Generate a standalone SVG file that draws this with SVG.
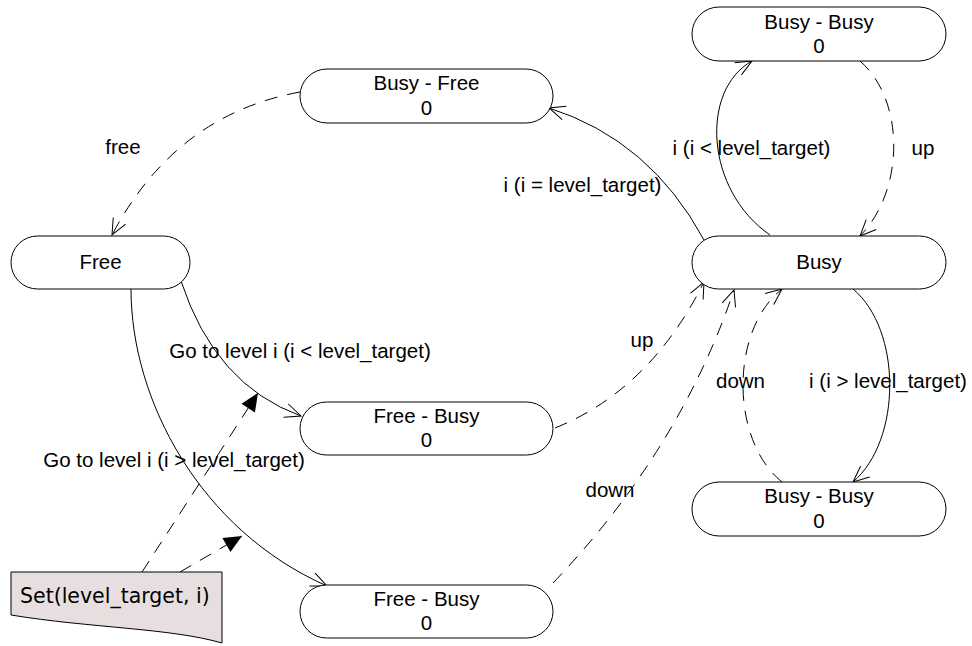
<svg xmlns="http://www.w3.org/2000/svg" width="972" height="646" viewBox="0 0 972 646">
  <style>
    .state { fill: #ffffff; stroke: #000000; stroke-width: 1; }
    .note { fill: #e7dfdf; stroke: #000000; stroke-width: 1; }
    .label { font-family: "Liberation Sans", Arial, sans-serif; font-size: 20.5px; fill: #000000; }
    .mid { text-anchor: middle; }
    .notetext { font-family: "DejaVu Sans", sans-serif; font-size: 20.5px; fill: #000000; }
    .edge { fill: none; stroke: #000000; stroke-width: 1; }
    .dashed { stroke-dasharray: 13 10; }
  </style>
  <defs>
    <marker id="open" markerUnits="userSpaceOnUse" markerWidth="20" markerHeight="18" refX="18" refY="8" orient="auto" overflow="visible">
      <path d="M2,1 L18,8 L2,15" fill="none" stroke="#000000" stroke-width="1" stroke-dasharray="none"/>
    </marker>
    <marker id="filled" markerUnits="userSpaceOnUse" markerWidth="20" markerHeight="18" refX="18" refY="8" orient="auto" overflow="visible">
      <path d="M0,0 L18,8 L0,16 Z" fill="#000000" stroke="none"/>
    </marker>
  </defs>

  <!-- transitions -->
  <g id="connectors">
    <!-- Busy - Free -> Free : free -->
    <path class="edge dashed" d="M300,92 Q175,115 112,235" marker-end="url(#open)"/>
    <!-- Busy -> Busy - Free -->
    <path class="edge" d="M704,240 Q650,140 549,108" marker-end="url(#open)"/>
    <!-- Busy -> Busy - Busy (top) -->
    <path class="edge" d="M770,235 C705,190 700,90 752,61" marker-end="url(#open)"/>
    <!-- Busy - Busy (top) -> Busy : up -->
    <path class="edge dashed" d="M860,61 C905,100 905,190 860,236" marker-end="url(#open)"/>
    <!-- Busy -> Busy - Busy (bottom) -->
    <path class="edge" d="M853,289 C902,330 902,440 853,482" marker-end="url(#open)"/>
    <!-- Busy - Busy (bottom) -> Busy : down -->
    <path class="edge dashed" d="M782,482 C730,440 730,330 782,289" marker-end="url(#open)"/>
    <!-- Free -> Free - Busy (middle) -->
    <path class="edge" d="M181,281 Q215,385 301,416" marker-end="url(#open)"/>
    <!-- Free -> Free - Busy (bottom) -->
    <path class="edge" d="M131,289 C131,400 200,530 327,586" marker-end="url(#open)"/>
    <!-- Free - Busy (middle) -> Busy : up -->
    <path class="edge dashed" d="M555,428 Q650,390 704,282" marker-end="url(#open)"/>
    <!-- Free - Busy (bottom) -> Busy : down -->
    <path class="edge dashed" d="M553,583 Q680,450 734,290" marker-end="url(#open)"/>
    <!-- note anchors -->
    <path class="edge dashed" d="M142,572 L258,393" marker-end="url(#filled)"/>
    <path class="edge dashed" d="M180,572 L242,536" marker-end="url(#filled)"/>

    <!-- transition labels -->
    <text class="label mid" x="123" y="154">free</text>
    <text class="label mid" x="582.5" y="192">i (i = level_target)</text>
    <text class="label mid" x="751.5" y="155">i (i &lt; level_target)</text>
    <text class="label mid" x="923" y="155">up</text>
    <text class="label mid" x="888" y="388">i (i &gt; level_target)</text>
    <text class="label mid" x="740.5" y="388">down</text>
    <text class="label mid" x="300" y="358">Go to level i (i &lt; level_target)</text>
    <text class="label mid" x="174" y="467">Go to level i (i &gt; level_target)</text>
    <text class="label mid" x="642" y="347">up</text>
    <text class="label mid" x="610" y="497">down</text>
  </g>

  <g id="busy-busy-top">
    <rect class="state" x="692" y="7" width="254" height="54" rx="27" ry="27"/>
    <text class="label mid" x="819" y="29">Busy - Busy</text>
    <text class="label mid" x="819" y="53">0</text>
  </g>

  <g id="busy-free">
    <rect class="state" x="300" y="69" width="253" height="54" rx="27" ry="27"/>
    <text class="label mid" x="426.5" y="90">Busy - Free</text>
    <text class="label mid" x="426.5" y="115">0</text>
  </g>

  <g id="free">
    <rect class="state" x="11" y="236" width="179" height="53" rx="26.5" ry="26.5"/>
    <text class="label mid" x="100.5" y="269">Free</text>
  </g>

  <g id="busy">
    <rect class="state" x="692" y="236" width="254" height="53" rx="26.5" ry="26.5"/>
    <text class="label mid" x="819" y="269">Busy</text>
  </g>

  <g id="free-busy-mid">
    <rect class="state" x="300" y="402" width="253" height="53" rx="26.5" ry="26.5"/>
    <text class="label mid" x="426.5" y="423">Free - Busy</text>
    <text class="label mid" x="426.5" y="447">0</text>
  </g>

  <g id="busy-busy-bottom">
    <rect class="state" x="692" y="482" width="254" height="54" rx="27" ry="27"/>
    <text class="label mid" x="819" y="503">Busy - Busy</text>
    <text class="label mid" x="819" y="528">0</text>
  </g>

  <g id="free-busy-bottom">
    <rect class="state" x="300" y="585" width="253" height="53" rx="26.5" ry="26.5"/>
    <text class="label mid" x="426.5" y="606">Free - Busy</text>
    <text class="label mid" x="426.5" y="630">0</text>
  </g>

  <g id="note-set">
    <path class="note" d="M11,572 L222,572 L222,643 C170,628 90,628 11,615 Z"/>
    <text class="notetext" x="20" y="603">Set(level_target, i)</text>
  </g>
</svg>
